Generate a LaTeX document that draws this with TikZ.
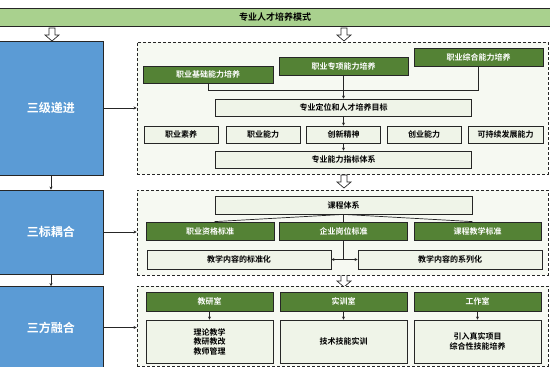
\documentclass[tikz,border=0pt]{standalone}
\usepackage{fontspec}
\newfontfamily\cjk{Noto Sans CJK SC}[BoldFont={Noto Sans CJK SC Bold}]
\usetikzlibrary{arrows.meta}
\definecolor{banner}{HTML}{A9D18E}
\definecolor{bluefill}{HTML}{5B9BD5}
\definecolor{dgreen}{HTML}{548235}
\definecolor{lightfill}{HTML}{EFF4E8}
\definecolor{dashfill}{HTML}{F6F9F2}
\definecolor{edge}{HTML}{262626}
\tikzset{
  every node/.style={font=\cjk\bfseries\fontsize{8}{9.5}\selectfont, inner sep=1pt},
  bluebox/.style={draw=edge, line width=0.8pt, fill=bluefill, text=white, font=\cjk\bfseries\fontsize{12}{14}\selectfont},
  dashbox/.style={draw=edge, line width=0.8pt, dash pattern=on 3pt off 2pt, fill=dashfill},
  greenbox/.style={draw=edge, line width=0.8pt, fill=dgreen, text=white},
  lightbox/.style={draw=edge, line width=0.8pt, fill=lightfill, text=black, align=center},
  conn/.style={draw=edge, line width=0.7pt},
  arr/.style={conn, -{Stealth[length=3pt,width=3pt]}},
  hollow/.style={draw=edge, line width=0.7pt, fill=white}
}
\newcommand{\hollowdown}[1]{\draw[hollow] (#1) ++(-3,0) -- ++(0,7) -- ++(-4,0) -- ++(7,6) -- ++(7,-6) -- ++(-4,0) -- ++(0,-7) -- cycle;}
\begin{document}
\begin{tikzpicture}[x=1pt,y=-1pt]
\useasboundingbox (0,0) rectangle (550,367);
\fill[white] (0,0) rectangle (550,367);
% banner
\node[draw=edge, line width=0.8pt, fill=banner, minimum width=552pt, minimum height=18pt, font=\cjk\bfseries\fontsize{9}{10}\selectfont] (banner) at (275,17) {专业人才培养模式};
% hollow arrows
\coordinate (ha1) at (52,28);
\coordinate (ha2) at (344,28);
\coordinate (ha3) at (344,175);
\coordinate (ha4) at (344,274);
\hollowdown{ha1}
\hollowdown{ha2}
\hollowdown{ha3}
\hollowdown{ha4}
% blue boxes
\node[bluebox, minimum width=104pt, minimum height=134pt] (b1) at (51,108) {三级递进};
\node[bluebox, minimum width=104pt, minimum height=84pt] (b2) at (51,232) {三标耦合};
\node[bluebox, minimum width=104pt, minimum height=82pt] (b3) at (51,327.5) {三方融合};
\draw[arr] (b1.south) -- (b2.north);
\draw[arr] (b2.south) -- (b3.north);
% dashed boxes
\node[dashbox, minimum width=411pt, minimum height=132pt] (d1) at (342.5,108) {};
\node[dashbox, minimum width=411pt, minimum height=85pt] (d2) at (342.5,232.5) {};
\node[dashbox, minimum width=411pt, minimum height=80pt] (d3) at (342.5,326) {};
\draw[arr] (b1.east) -- (b1.east -| d1.west);
\draw[arr] (b2.east) -- (b2.east -| d2.west);
\draw[arr] (b3.east) -- (b3.east -| d3.west);
% section 1
\node[greenbox, minimum width=130pt, minimum height=17pt] (jc) at (208,74.5) {职业基础能力培养};
\node[greenbox, minimum width=129pt, minimum height=18pt] (zx) at (343.5,66) {职业专项能力培养};
\node[greenbox, minimum width=129pt, minimum height=18pt] (zh) at (478.5,57) {职业综合能力培养};
\node[lightbox, minimum width=256pt, minimum height=17pt] (dw) at (343.5,107.5) {专业定位和人才培养目标};
\node[lightbox, minimum width=74pt, minimum height=17pt] (r1) at (181,134.5) {职业素养};
\node[lightbox, minimum width=74pt, minimum height=17pt] (r2) at (263,134.5) {职业能力};
\node[lightbox, minimum width=74pt, minimum height=17pt] (cx) at (343.5,134.5) {创新精神};
\node[lightbox, minimum width=74pt, minimum height=17pt] (r4) at (424,134.5) {创业能力};
\node[lightbox, minimum width=75pt, minimum height=17pt] (r5) at (505.5,134.5) {可持续发展能力};
\node[lightbox, minimum width=256pt, minimum height=17pt] (zb) at (343.5,159.5) {专业能力指标体系};
\coordinate (bus) at (0,90);
\draw[conn] (jc.south) -- (jc.south |- bus) -- (zh.south |- bus) -- (zh.south);
\draw[arr] (zx.south) -- (dw.north);
\draw[arr] (dw.south) -- (cx.north);
\draw[arr] (cx.south) -- (zb.north);
% section 2
\node[lightbox, minimum width=257pt, minimum height=18pt] (kc) at (343.5,205) {课程体系};
\node[greenbox, minimum width=128pt, minimum height=18pt] (g1) at (210,231) {职业资格标准};
\node[greenbox, minimum width=128pt, minimum height=18pt] (g2) at (343.5,231) {企业岗位标准};
\node[greenbox, minimum width=127pt, minimum height=18pt] (g3) at (477.5,231) {课程教学标准};
\draw[conn] (kc.south) -- (kc.south west |- g1.north);
\draw[conn] (kc.south) -- (kc.south east |- g3.north);
\draw[conn] (kc.south) -- (g2.north);
\node[lightbox, minimum width=184pt, minimum height=19pt] (bz) at (239,259.5) {教学内容的标准化};
\node[lightbox, minimum width=184pt, minimum height=19pt] (xl) at (450,259.5) {教学内容的系列化};
\coordinate (split) at (g2.south |- bz.east);
\draw[conn] (g2.south) -- (split);
\draw[arr] (split) -- (bz.east);
\draw[arr] (split) -- (xl.west);
% section 3
\node[greenbox, minimum width=127pt, minimum height=19pt] (h1) at (209.5,301.5) {教研室};
\node[greenbox, minimum width=127pt, minimum height=19pt] (h2) at (343.5,301.5) {实训室};
\node[greenbox, minimum width=127pt, minimum height=19pt] (h3) at (477.5,301.5) {工作室};
\node[lightbox, minimum width=127pt, minimum height=43pt] (l1) at (209.5,341.5) {理论教学\\教研教改\\教师管理};
\node[lightbox, minimum width=127pt, minimum height=43pt] (l2) at (343.5,341.5) {技术技能实训};
\node[lightbox, minimum width=127pt, minimum height=43pt] (l3) at (477.5,341.5) {引入真实项目\\综合性技能培养};
\draw[arr] (h1.south) -- (l1.north);
\draw[arr] (h2.south) -- (l2.north);
\draw[arr] (h3.south) -- (l3.north);
\end{tikzpicture}
\end{document}
